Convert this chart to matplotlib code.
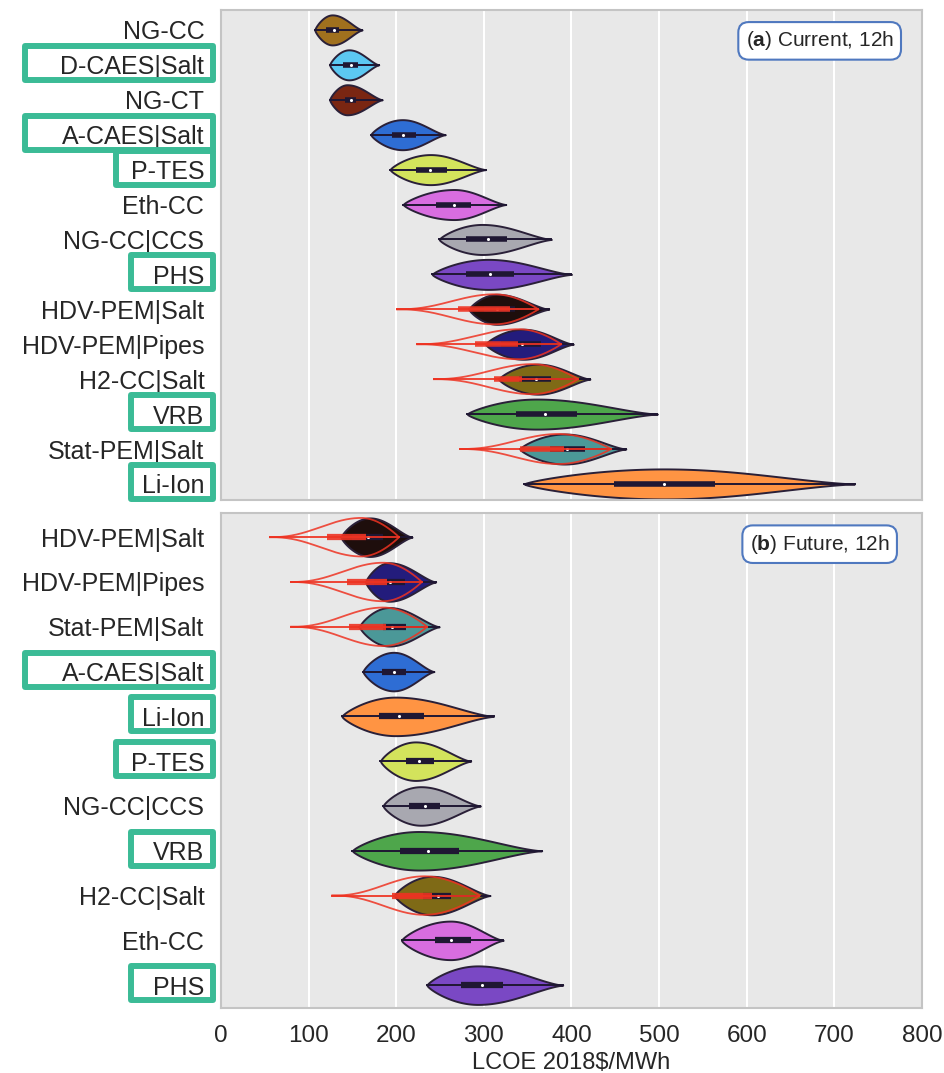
import numpy as np
import matplotlib.pyplot as plt
from matplotlib.patches import Rectangle

plt.rcParams['font.family'] = ['Liberation Sans', 'DejaVu Sans']
plt.rcParams['mathtext.fontset'] = 'custom'
plt.rcParams['mathtext.rm'] = 'Liberation Sans'
plt.rcParams['mathtext.bf'] = 'Liberation Sans:bold'

# ---- (a) current technology, 12h storage ----
cur_tech = ["NG-CC", "D-CAES|Salt", "NG-CT", "A-CAES|Salt", "P-TES", "Eth-CC",
            "NG-CC|CCS", "PHS", "HDV-PEM|Salt", "HDV-PEM|Pipes", "H2-CC|Salt",
            "VRB", "Stat-PEM|Salt", "Li-Ion"]
cur_min = [107, 124, 124, 171, 193, 208, 249, 241, 283, 302, 317, 281, 341, 346]
cur_q1 = [120, 139, 142, 195, 222, 245, 280, 280, 300, 320, 340, 337, 375, 449]
cur_med = [129, 148, 148, 208, 239, 266, 305, 307, 315, 343, 360, 370, 395, 506]
cur_q3 = [135, 156, 154, 222, 258, 285, 326, 334, 335, 365, 377, 406, 415, 564]
cur_max = [161, 180, 184, 256, 302, 325, 377, 400, 374, 402, 421, 498, 462, 723]
cur_mode = [127, 146, 144, 207, 239, 266, 298, 305, 315, 345, 362, 360, 392, 506]

# hydrogen options with alternative cost assumptions (red outlines)
cur_h2 = ["HDV-PEM|Salt", "HDV-PEM|Pipes", "H2-CC|Salt", "Stat-PEM|Salt"]
cur_h2_min = [201, 224, 243, 273]
cur_h2_q1 = [270, 290, 311, 341]
cur_h2_med = [300, 315, 330, 370]
cur_h2_q3 = [330, 339, 343, 392]
cur_h2_max = [362, 388, 407, 445]
cur_h2_mode = [312, 340, 355, 385]

# ---- (b) future technology, 12h storage ----
fut_tech = ["HDV-PEM|Salt", "HDV-PEM|Pipes", "Stat-PEM|Salt", "A-CAES|Salt",
            "Li-Ion", "P-TES", "NG-CC|CCS", "VRB", "H2-CC|Salt", "Eth-CC", "PHS"]
fut_min = [137, 165, 158, 162, 138, 182, 185, 150, 198, 206, 235]
fut_q1 = [150, 175, 185, 184, 180, 211, 214, 204, 230, 244, 274]
fut_med = [168, 193, 195, 197, 203, 226, 233, 236, 248, 263, 298]
fut_q3 = [185, 210, 211, 211, 232, 243, 250, 272, 263, 285, 322]
fut_max = [218, 245, 249, 243, 311, 285, 296, 366, 307, 322, 390]
fut_mode = [170, 192, 192, 197, 199, 222, 228, 226, 241, 262, 293]

fut_h2 = ["HDV-PEM|Salt", "HDV-PEM|Pipes", "Stat-PEM|Salt", "H2-CC|Salt"]
fut_h2_min = [56, 80, 80, 127]
fut_h2_q1 = [121, 144, 146, 195]
fut_h2_med = [150, 170, 170, 225]
fut_h2_q3 = [165, 190, 188, 241]
fut_h2_max = [203, 229, 235, 295]
fut_h2_mode = [160, 185, 185, 232]

tech_colors = {
    "NG-CC": "#a0701e", "D-CAES|Salt": "#5cc8f2", "NG-CT": "#7a2612",
    "A-CAES|Salt": "#2e6dd4", "P-TES": "#d3e35c", "Eth-CC": "#d86de0",
    "NG-CC|CCS": "#a8a8b0", "PHS": "#7a48c4", "HDV-PEM|Salt": "#1e0e0c",
    "HDV-PEM|Pipes": "#231c7c", "H2-CC|Salt": "#7f6a16", "VRB": "#4ea64b",
    "Stat-PEM|Salt": "#4b9898", "Li-Ion": "#ff9443",
}

# storage technologies get highlighted labels
storage = ["D-CAES|Salt", "A-CAES|Salt", "P-TES", "PHS", "VRB", "Li-Ion"]
box_left_px = {"D-CAES|Salt": 22, "A-CAES|Salt": 22, "P-TES": 113,
               "PHS": 128, "VRB": 128, "Li-Ion": 128}

EDGE = "#2a2038"
INNER = "#1f1733"
RED = "#ee3322"
HALF = 0.43


def profile(lo, mode, hi, pl, pr):
    x = np.linspace(lo, hi, 400)
    t = np.clip((x - lo) / (mode - lo), 0, 1)
    s = np.clip((x - mode) / (hi - mode), 0, 1)
    w = np.where(x <= mode, np.sin(np.pi / 2 * t) ** pl, np.cos(np.pi / 2 * s) ** pr)
    return x, w * HALF


def draw_violin(ax, y, lo, q1, med, q3, hi, mode, color, box_lw):
    x, w = profile(lo, mode, hi, 0.75, 1.4)
    ax.fill_between(x, y - w, y + w, facecolor=color, edgecolor=EDGE, lw=1.4, zorder=2)
    ax.plot([lo, hi], [y, y], color=INNER, lw=1.4, zorder=3)
    ax.plot([q1, q3], [y, y], color=INNER, lw=box_lw, solid_capstyle="butt", zorder=3)
    ax.scatter([med], [y], s=5, color="white", zorder=4, lw=0)


def draw_red(ax, y, lo, q1, med, q3, hi, mode, box_lw):
    x, w = profile(lo, mode, hi, 2.4, 0.9)
    ax.plot(x, y - w, color=RED, lw=1.3, alpha=0.85, zorder=5)
    ax.plot(x, y + w, color=RED, lw=1.3, alpha=0.85, zorder=5)
    ax.plot([lo, hi], [y, y], color=RED, lw=1.4, alpha=0.9, zorder=5)
    ax.plot([q1, q3], [y, y], color=RED, lw=box_lw, solid_capstyle="butt", alpha=0.9, zorder=5)


def panel(ax, tech, lo, q1, med, q3, hi, mode, h2, h2_lo, h2_q1, h2_med, h2_q3, h2_hi,
          h2_mode, box_lw):
    ax.set_facecolor("#e8e8e8")
    for i, name in enumerate(tech):
        draw_violin(ax, i, lo[i], q1[i], med[i], q3[i], hi[i], mode[i],
                    tech_colors[name], box_lw)
    for j, name in enumerate(h2):
        i = tech.index(name)
        draw_red(ax, i, h2_lo[j], h2_q1[j], h2_med[j], h2_q3[j], h2_hi[j], h2_mode[j], box_lw)
    ax.set_xlim(0, 800)
    ax.set_xticks(range(0, 801, 100))
    ax.set_yticks(range(len(tech)))
    ax.set_yticklabels(tech, fontsize=18, color="#262626")
    ax.grid(axis="x", color="white", lw=1.5)
    ax.set_axisbelow(True)
    ax.tick_params(length=0, pad=12)
    for sp in ax.spines.values():
        sp.set_color("#c4c4c4")
        sp.set_linewidth(1.5)


fig = plt.figure(figsize=(9.45, 10.73), dpi=100)
W, H = 945, 1073
ax1 = fig.add_axes([221 / W, 1 - 500 / H, 701 / W, 490 / H])
ax2 = fig.add_axes([221 / W, 1 - 1008 / H, 701 / W, 495 / H])

panel(ax1, cur_tech, cur_min, cur_q1, cur_med, cur_q3, cur_max, cur_mode,
      cur_h2, cur_h2_min, cur_h2_q1, cur_h2_med, cur_h2_q3, cur_h2_max, cur_h2_mode, 4)
ax1.set_ylim(13.46, -0.57)
ax1.set_xticklabels([])

panel(ax2, fut_tech, fut_min, fut_q1, fut_med, fut_q3, fut_max, fut_mode,
      fut_h2, fut_h2_min, fut_h2_q1, fut_h2_med, fut_h2_q3, fut_h2_max, fut_h2_mode, 4.5)
ax2.set_ylim(10.51, -0.54)
ax2.tick_params(axis="x", labelsize=17.5, labelcolor="#262626", pad=12)
ax2.set_xlabel("LCOE 2018$/MWh", fontsize=17, color="#262626", labelpad=4)

for ax, tag in [(ax1, r"($\bf{a}$) Current, 12h"), (ax2, r"($\bf{b}$) Future, 12h")]:
    ax.text(0.854, 0.937, tag, transform=ax.transAxes, ha="center", va="center",
            fontsize=15, color="#262626", zorder=10,
            bbox=dict(boxstyle="round,pad=0.35,rounding_size=0.5", fc="white",
                      ec="#4f78bf", lw=1.5))

# highlight boxes around storage technology labels
for ax, tech in [(ax1, cur_tech), (ax2, fut_tech)]:
    for i, name in enumerate(tech):
        if name not in storage:
            continue
        yc = ax.transData.transform((0, i))[1] / fig.dpi / 10.73 * H
        x0 = box_left_px[name] + 3
        x1 = 213
        rect = Rectangle((x0 / W, (yc - 15) / H), (x1 - x0) / W, 34 / H,
                         transform=fig.transFigure, fill=False, ec="#3bbb96",
                         lw=4.3, joinstyle="round", zorder=10)
        fig.add_artist(rect)

fig.savefig("out.png", dpi=100)
